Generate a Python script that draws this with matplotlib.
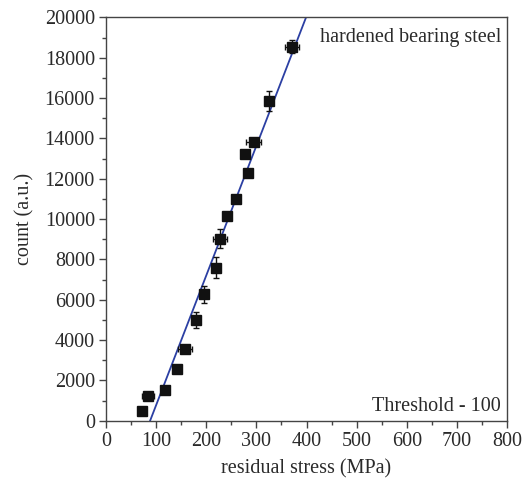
import matplotlib
matplotlib.use("Agg")
import matplotlib.pyplot as plt
import numpy as np

plt.rcParams['font.family'] = ['Liberation Serif', 'DejaVu Serif']

# data: residual stress (MPa) vs count (a.u.)
stress = [71, 84, 118, 142, 157, 179, 196, 220, 228, 241, 260, 278, 283, 295, 325, 372]
count = [500, 1220, 1520, 2580, 3570, 4980, 6270, 7580, 9030, 10130, 11020, 13220, 12300, 13800, 15870, 18560]
stress_err = [0, 12, 0, 0, 14, 0, 0, 0, 14, 0, 0, 0, 0, 15, 6, 14]
count_err = [0, 200, 0, 0, 100, 400, 410, 520, 470, 0, 0, 0, 0, 150, 500, 300]

# linear fit line endpoints (MPa at count 0 and 20000)
fit_x = [88, 399]
fit_y = [0, 20000]

text_color = '#2a2a2a'
fs = 14.5

fig = plt.figure(figsize=(5.23, 4.83), dpi=100)
ax = fig.add_axes([0.2027, 0.129, 0.7667, 0.8348])

ax.plot(fit_x, fit_y, color='#2b3fa3', lw=1.3, zorder=2)
ax.errorbar(stress, count, xerr=stress_err, yerr=count_err, fmt='s', color='#111111',
            ms=7, ecolor='#111111', elinewidth=1.0, capsize=2.5, capthick=1.0, zorder=3)

ax.set_xlim(0, 800)
ax.set_ylim(0, 20000)
ax.set_xticks(np.arange(0, 801, 100))
ax.set_yticks(np.arange(0, 20001, 2000))
ax.set_xticks(np.arange(50, 800, 100), minor=True)
ax.set_yticks(np.arange(1000, 20000, 2000), minor=True)
ax.tick_params(axis='both', which='major', direction='out', length=5, width=1,
               labelsize=fs, colors='#444444', labelcolor=text_color, pad=3)
ax.tick_params(axis='both', which='minor', direction='out', length=3, width=1,
               colors='#444444')
for s in ax.spines.values():
    s.set_color('#444444')
    s.set_linewidth(1.0)

ax.set_xlabel('residual stress (MPa)', fontsize=fs, color=text_color, labelpad=6)
ax.set_ylabel('count (a.u.)', fontsize=fs, color=text_color, labelpad=7)

ax.text(0.985, 0.975, 'hardened bearing steel', transform=ax.transAxes, ha='right', va='top',
        fontsize=fs, color=text_color)
ax.text(0.985, 0.012, 'Threshold - 100', transform=ax.transAxes, ha='right', va='bottom',
        fontsize=fs, color=text_color)

fig.savefig('out.png', dpi=100)
